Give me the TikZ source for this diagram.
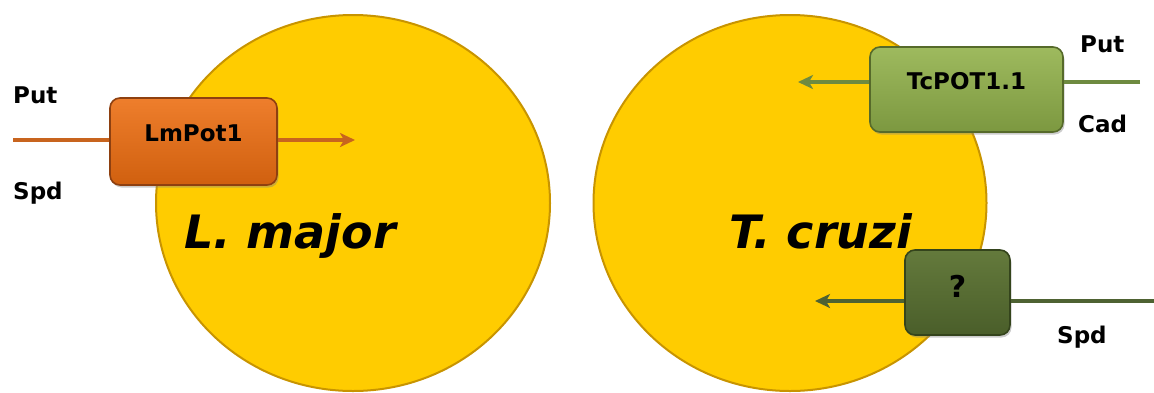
\documentclass[tikz,border=0pt]{standalone}
\usepackage{fontspec}
\setmainfont{DejaVu Sans}[ItalicFont={DejaVu Sans Oblique},BoldItalicFont={DejaVu Sans Bold Oblique}]
\usetikzlibrary{arrows.meta,shapes.geometric,shadows}
\definecolor{cellY}{HTML}{FFCC00}
\definecolor{cellEdge}{HTML}{C89400}
\definecolor{orTop}{HTML}{EE7E2C}
\definecolor{orBot}{HTML}{D0600F}
\definecolor{orEdge}{HTML}{8E4010}
\definecolor{orLine}{HTML}{C8641E}
\definecolor{grTop}{HTML}{9EBA5E}
\definecolor{grBot}{HTML}{7C9840}
\definecolor{grEdge}{HTML}{566A2A}
\definecolor{grLine}{HTML}{6E8A40}
\definecolor{dgTop}{HTML}{647A3C}
\definecolor{dgBot}{HTML}{4A5E2A}
\definecolor{dgEdge}{HTML}{34441C}
\definecolor{dgLine}{HTML}{4E6232}
\begin{document}
\begin{tikzpicture}[x=1pt,y=-1pt,
  cell/.style={ellipse,fill=cellY,draw=cellEdge,line width=2pt,inner sep=0pt},
  species/.style={font=\bfseries\itshape\fontsize{46}{50}\selectfont,anchor=base,inner sep=0pt},
  side/.style={font=\bfseries\fontsize{23}{26}\selectfont,anchor=base west,inner sep=0pt},
  pbox/.style={rounded corners=10pt,line width=1.6pt,inner sep=0pt,
    font=\bfseries\fontsize{23}{26}\selectfont,text height=17pt,text depth=17pt,
    drop shadow={shadow xshift=1.5pt,shadow yshift=-2.5pt,opacity=0.4}},
  flow/.style={line width=3.5pt},
  tip/.style={-{Stealth[length=15pt,width=14pt,inset=4pt]}}]
\useasboundingbox (0,0) rectangle (1154,392);
% cells
\node[cell,minimum width=394pt,minimum height=376pt] (lm) at (353,203) {};
\node[cell,minimum width=393pt,minimum height=376pt] (tc) at (790,203) {};
\node[species] (lmname) at (290,248) {L. major};
\node[species] (tcname) at (821,248) {T. cruzi};
% L. major transporter
\coordinate (lmin) at (13,140);
\coordinate (lmtip) at (355,140);
\node[pbox,top color=orTop,bottom color=orBot,draw=orEdge,minimum width=167pt,minimum height=87pt] (lmpot) at (193.5,141.5) {LmPot1};
\draw[flow,orLine] (lmin) -- (lmin -| lmpot.west);
\draw[flow,orLine,tip] (lmin -| lmpot.east) -- (lmtip);
\node[side] (lmput) at (13,103) {Put};
\node[side] (lmspd) at (13,199) {Spd};
% T. cruzi transporter 1
\coordinate (tcin) at (1140,82);
\coordinate (tctip) at (798,82);
\node[pbox,top color=grTop,bottom color=grBot,draw=grEdge,minimum width=193pt,minimum height=85pt] (tcpot) at (966.5,89.5) {TcPOT1.1};
\draw[flow,grLine] (tcin) -- (tcin -| tcpot.east);
\draw[flow,grLine,tip] (tcin -| tcpot.west) -- (tctip);
\node[side] (tcput) at (1080,52) {Put};
\node[side] (tccad) at (1078,132) {Cad};
% T. cruzi unknown transporter
\coordinate (qin) at (1154,301);
\coordinate (qtip) at (815,301);
\node[pbox,top color=dgTop,bottom color=dgBot,draw=dgEdge,minimum width=105pt,minimum height=85pt,font=\bfseries\fontsize{30}{34}\selectfont,text height=22pt,text depth=12pt] (qbox) at (957.5,292.5) {?};
\draw[flow,dgLine] (qin) -- (qin -| qbox.east);
\draw[flow,dgLine,tip] (qin -| qbox.west) -- (qtip);
\node[side] (tcspd) at (1057,343) {Spd};
\end{tikzpicture}
\end{document}
